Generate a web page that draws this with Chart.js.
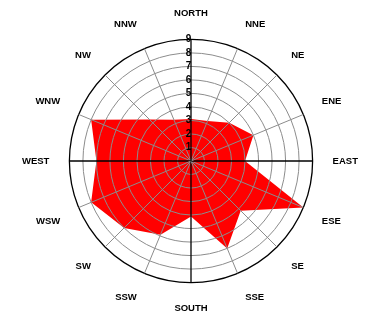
<!DOCTYPE html>
<html>
<head>
<meta charset="utf-8">
<script src="https://cdn.jsdelivr.net/npm/chart.js@4/dist/chart.umd.min.js"></script>
<style>
  html, body { margin: 0; padding: 0; background: #fff; }
  #rose { display: block; }
</style>
</head>
<body>
<canvas id="rose" width="385" height="320"></canvas>
<script>
// compass points, clockwise from north
const directions = ['NORTH', 'NNE', 'NE', 'ENE', 'EAST', 'ESE', 'SE', 'SSE',
  'SOUTH', 'SSW', 'SW', 'WSW', 'WEST', 'WNW', 'NW', 'NNW'];
// frequency per direction
const windValues = [3.1, 3.2, 4.0, 5.0, 4.0, 9.0, 5.2, 7.0,
  4.1, 5.9, 7.0, 8.0, 7.0, 8.0, 4.35, 3.3];
const scaleMin = 0;
const scaleMax = 9;

const labelFont = { family: "'Liberation Sans', Arial, sans-serif", size: 9.5, weight: 'bold' };
const tickFont = { family: "'Liberation Sans', Arial, sans-serif", size: 10, weight: 'bold' };

new Chart(document.getElementById('rose'), {
  type: 'radar',
  data: {
    labels: directions,
    datasets: [{
      data: windValues,
      backgroundColor: '#ff0000',
      borderColor: '#ff0000',
      borderWidth: 0,
      fill: true,
      pointRadius: 0,
      pointHoverRadius: 0
    }]
  },
  options: {
    responsive: false,
    animation: false,
    layout: { padding: { top: 8, bottom: 6, left: 0, right: 5 } },
    plugins: { legend: { display: false }, tooltip: { enabled: false } },
    elements: { line: { tension: 0 } },
    scales: {
      r: {
        min: scaleMin,
        max: scaleMax,
        ticks: {
          z: 1, // numbers and rings go over the filled area
          stepSize: 1,
          showLabelBackdrop: false,
          color: '#000',
          font: tickFont,
          // trailing en space nudges the numbers just left of the north spoke
          callback: v => v + '\u2002'
        },
        grid: {
          z: 1,
          circular: true,
          color: ctx => ctx.index === scaleMax ? '#000' : '#8c8c8c',
          lineWidth: ctx => ctx.index === scaleMax ? 1.3 : 1
        },
        angleLines: {
          color: ctx => ctx.index % 4 === 0 ? '#000' : '#8c8c8c',
          lineWidth: ctx => ctx.index % 4 === 0 ? 1.3 : 1
        },
        pointLabels: {
          color: '#000',
          font: labelFont,
          padding: 13
        }
      }
    }
  }
});
</script>
</body>
</html>
